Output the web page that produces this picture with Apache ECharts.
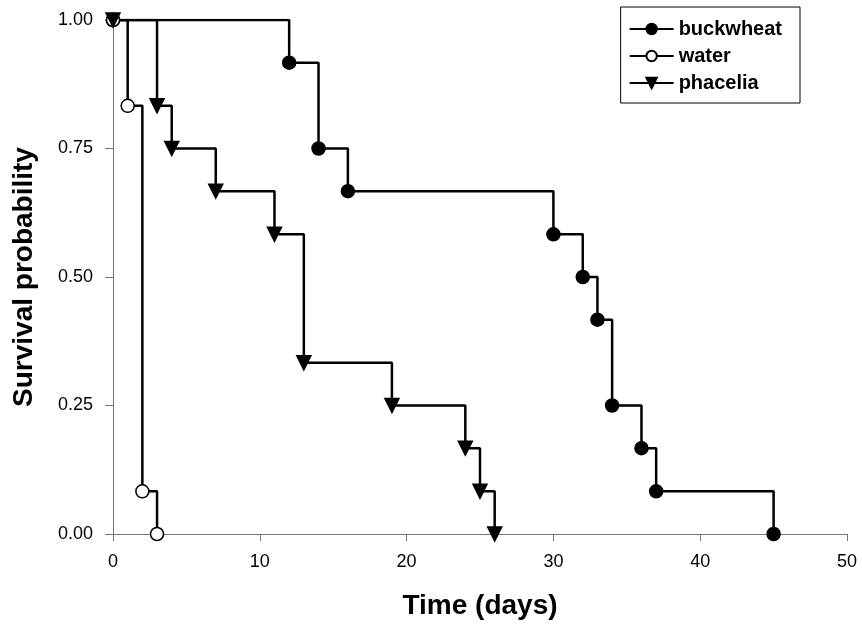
<!DOCTYPE html>
<html>
<head>
<meta charset="utf-8">
<script src="https://cdn.jsdelivr.net/npm/echarts@6/dist/echarts.min.js"></script>
<style>
  html, body { margin: 0; padding: 0; background: #fff; }
  #survivalChart { width: 862px; height: 629px; }
</style>
</head>
<body>
<div id="survivalChart"></div>
<script>
// Kaplan-Meier steps (time in days, survival probability)
const buckwheatDays = [0, 12, 14, 16, 30, 32, 33, 34, 36, 37, 45]
const buckwheatSurv = [1, 0.917, 0.75, 0.667, 0.583, 0.5, 0.417, 0.25, 0.167, 0.083, 0]

const waterDays = [0, 1, 2, 3]
const waterSurv = [1, 0.833, 0.083, 0]

const phaceliaDays = [0, 3, 4, 7, 11, 13, 19, 24, 25, 26]
const phaceliaSurv = [1, 0.833, 0.75, 0.667, 0.583, 0.333, 0.25, 0.167, 0.083, 0]

const xTicks = [0, 10, 20, 30, 40, 50]
const yTicks = [0, 0.25, 0.5, 0.75, 1]

const toPairs = (days, surv) => days.map((d, i) => [d, surv[i]])

const chart = echarts.init(document.getElementById('survivalChart'))

const font = 'Liberation Sans, Arial, sans-serif'
const axisGray = '#777'

// common style for the three step curves
const stepSeries = (name, data, symbol, fill, rotate) => ({
  name: name,
  type: 'line',
  step: 'end',
  data: data,
  symbol: symbol,
  symbolSize: symbol === 'triangle' ? 14 : 13,
  symbolRotate: rotate || 0,
  lineStyle: { color: '#000', width: 2.5 },
  itemStyle: { color: fill, borderColor: '#000', borderWidth: 1.5 },
  emphasis: { disabled: true },
  animation: false
})

const option = {
  backgroundColor: '#fff',
  grid: { left: 113, right: 15, top: 20, bottom: 95 },
  legend: {
    right: 62,
    top: 7,
    orient: 'vertical',
    itemGap: 7,
    itemWidth: 44,
    itemHeight: 13,
    padding: [12, 18, 10, 8],
    borderColor: '#000',
    borderWidth: 1,
    textStyle: { fontFamily: font, fontWeight: 'bold', fontSize: 20, color: '#000' },
    data: ['buckwheat', 'water', 'phacelia']
  },
  xAxis: {
    type: 'value',
    min: 0,
    max: 50,
    interval: 10,
    name: 'Time (days)',
    nameLocation: 'middle',
    nameGap: 58,
    nameTextStyle: { fontFamily: font, fontWeight: 'bold', fontSize: 28, color: '#000' },
    axisLine: { lineStyle: { color: axisGray, width: 1 } },
    axisTick: { show: true, length: 7, lineStyle: { color: axisGray } },
    axisLabel: {
      margin: 19,
      fontFamily: font,
      fontSize: 18,
      color: '#000',
      formatter: v => xTicks.includes(v) ? String(v) : ''
    },
    splitLine: { show: false }
  },
  yAxis: {
    type: 'value',
    min: 0,
    max: 1,
    interval: 0.25,
    name: 'Survival probability',
    nameLocation: 'middle',
    nameRotate: 90,
    nameGap: 75,
    nameTextStyle: { fontFamily: font, fontWeight: 'bold', fontSize: 28, color: '#000' },
    axisLine: { show: true, lineStyle: { color: axisGray, width: 1 } },
    axisTick: { show: true, length: 8, lineStyle: { color: axisGray } },
    axisLabel: {
      margin: 20,
      fontFamily: font,
      fontSize: 18,
      color: '#000',
      formatter: v => yTicks.includes(v) ? v.toFixed(2) : ''
    },
    splitLine: { show: false }
  },
  series: [
    stepSeries('buckwheat', toPairs(buckwheatDays, buckwheatSurv), 'circle', '#000'),
    stepSeries('water', toPairs(waterDays, waterSurv), 'circle', '#fff'),
    stepSeries('phacelia', toPairs(phaceliaDays, phaceliaSurv), 'triangle', '#000', 180)
  ]
}

chart.setOption(option)
</script>
</body>
</html>
